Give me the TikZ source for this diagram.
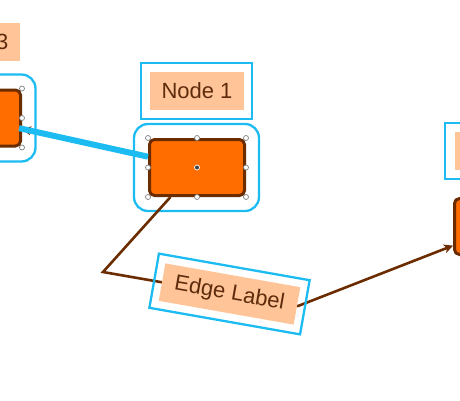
\documentclass[tikz,border=0pt]{standalone}
\usepackage{fontspec}
\setmainfont{Liberation Sans}
\usetikzlibrary{arrows.meta}
\definecolor{nfill}{HTML}{FF6D00}
\definecolor{nborder}{HTML}{6B2C00}
\definecolor{lfill}{HTML}{FFC598}
\definecolor{selblue}{HTML}{1CBCF2}
\definecolor{tbrown}{HTML}{5E2C0C}
\begin{document}
\begin{tikzpicture}[x=1pt,y=-1pt,
 nodebox/.style={rectangle, rounded corners=5pt, fill=nfill, draw=nborder, line width=3pt, minimum width=95pt, minimum height=56pt, inner sep=0pt},
 selbox/.style={rectangle, rounded corners=14pt, draw=selblue, line width=2.3pt, minimum width=125pt, minimum height=87pt, inner sep=0pt},
 lblbox/.style={rectangle, fill=lfill, text=tbrown, font=\fontsize{22}{26}\selectfont, minimum width=94pt, minimum height=38pt, inner sep=0pt},
 lblsel/.style={rectangle, draw=selblue, line width=2.3pt, minimum width=111pt, minimum height=56pt, inner sep=0pt},
 handle/.style={circle, fill=white, draw=gray, line width=0.7pt, minimum size=5pt, inner sep=0pt},
 cdot/.style={circle, fill=darkgray, draw=white, line width=0.7pt, minimum size=5pt, inner sep=0pt},
 edgeline/.style={draw=nborder, line width=2.6pt},
 hl/.style={draw=selblue, line width=6pt},
 tipped/.style={-{Stealth[length=9pt,width=9pt,inset=2.5pt]}}
]
\useasboundingbox (0,0) rectangle (460,400);
\clip (0,0) rectangle (460,400);
% nodes
\node[nodebox] (n1) at (197,167.5) {};
\node[nodebox] (n3) at (-27,118) {};
\node[nodebox] (n2) at (502,226.5) {};
% selection boxes
\node[selbox] (s1) at (196.5,167.5) {};
\node[selbox] (s3) at (-27,118) {};
% labels
\node[lblbox] (l1) at (197,91) {Node 1};
\node[lblsel] (ls1) at (196.5,91) {};
\node[lblbox] (l3) at (-27,42) {Node 3};
\node[lblbox] (l2) at (502,150.5) {};
\node[lblsel, minimum width=114pt] (ls2) at (502,151) {};
% edge 1 -> 3 (highlighted)
\draw[edgeline,tipped] (n1) -- (n3);
\draw[hl, shorten >=-3pt] (n1) -- (n3);
% edge 1 -> 2 with bends
\coordinate (b1) at (103,272);
\coordinate (b2) at (298,306);
\draw[edgeline,tipped] (n1) -- (b1) -- (b2) -- (n2);
\node[lblbox, rotate=-10, minimum width=137pt] (el) at (229.5,294) {Edge Label};
\node[lblsel, rotate=-10, minimum width=153pt, minimum height=55pt] (els) at (229.5,294) {};
% handles
\foreach \a [count=\i] in {north west,north,north east,west,east,south west,south,south east}{
  \node[handle] (ha\i) at (n1.\a) {};
  \node[handle] (hc\i) at (n3.\a) {};
}
\node[cdot] (c1) at (n1.center) {};
\end{tikzpicture}
\end{document}
